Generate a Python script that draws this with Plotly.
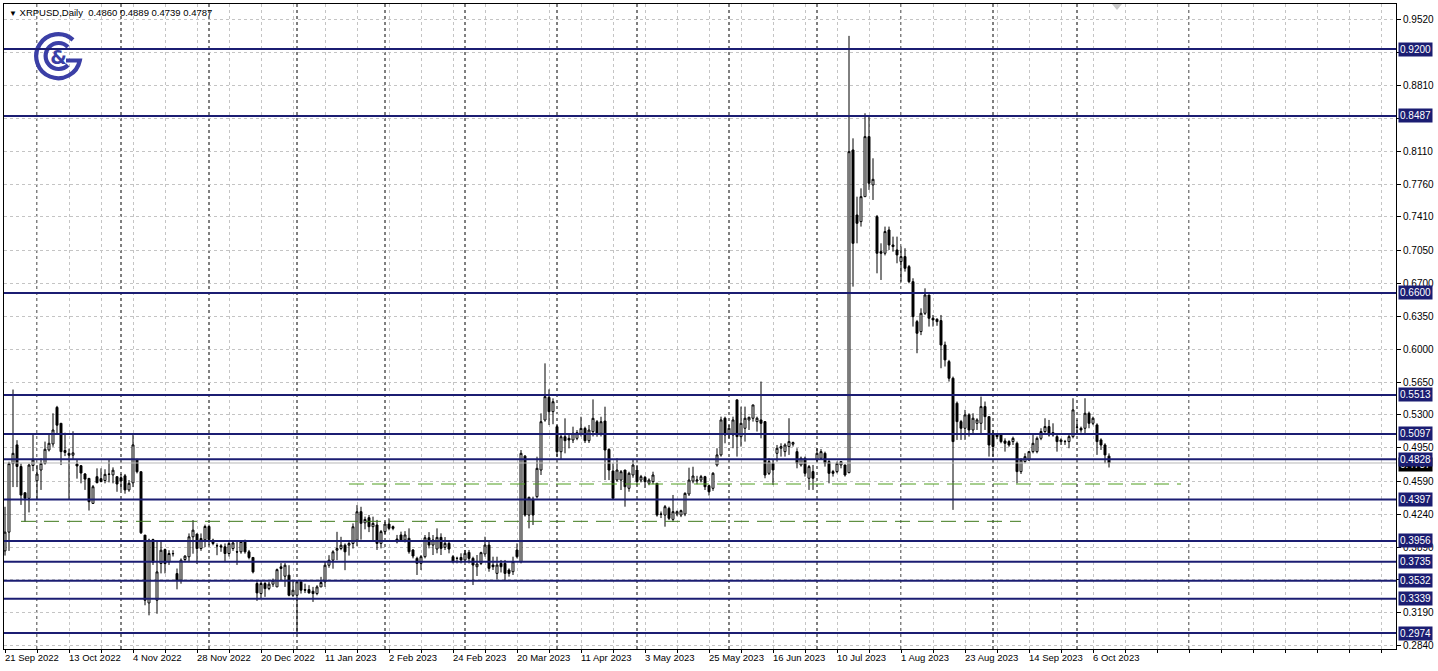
import base64
import pandas as pd
import plotly.graph_objects as go

# ---------------- data ----------------
first_date = "2022-09-21"   # first daily bar (weekday bars only)
symbol = "XRPUSD,Daily"

opens = [0.385, 0.405, 0.478, 0.498, 0.475, 0.447, 0.441, 0.476, 0.4597, 0.4712,
         0.4783, 0.4926, 0.499, 0.538, 0.521, 0.492, 0.489, 0.487, 0.4776, 0.4758,
         0.467, 0.4623, 0.4356, 0.4641, 0.462, 0.460, 0.4665, 0.466, 0.4641, 0.463,
         0.465, 0.450, 0.4575, 0.4826, 0.4694, 0.4018, 0.3295, 0.397, 0.3324, 0.3715,
         0.3864, 0.3733, 0.3822, 0.3608, 0.3537, 0.3758, 0.3787, 0.400, 0.4029, 0.3875,
         0.3968, 0.411, 0.3964, 0.3905, 0.3904, 0.3893, 0.3822, 0.3875, 0.384, 0.384,
         0.395, 0.384, 0.378, 0.3502, 0.3395, 0.3502, 0.3448, 0.3495, 0.3466, 0.368,
         0.358, 0.3591, 0.3377, 0.3377, 0.352, 0.3437, 0.3437, 0.342, 0.3395, 0.3466,
         0.352, 0.3697, 0.3751, 0.3857, 0.3875, 0.3911, 0.3911, 0.3929, 0.3964, 0.4268,
         0.4149, 0.4204, 0.4108, 0.4126, 0.393, 0.4055, 0.4136, 0.4108, 0.3976, 0.402,
         0.3966, 0.3984, 0.3859, 0.377, 0.3717, 0.3788, 0.399, 0.3912, 0.387, 0.3994,
         0.3888, 0.393, 0.3788, 0.3771, 0.378, 0.3753, 0.3834, 0.377, 0.3681, 0.3717,
         0.3817, 0.3912, 0.3699, 0.361, 0.3717, 0.3717, 0.3646, 0.3628, 0.3859, 0.3735,
         0.486, 0.4232, 0.440, 0.4428, 0.4712, 0.5245, 0.5487, 0.5334, 0.5174, 0.4907,
         0.5067, 0.505, 0.5032, 0.505, 0.5103, 0.5156, 0.5025, 0.5121, 0.5227, 0.5103,
         0.5234, 0.4932, 0.4701, 0.4605, 0.4605, 0.4712, 0.4517, 0.4659, 0.4712, 0.4605,
         0.4634, 0.457, 0.4588, 0.457, 0.4243, 0.4232, 0.4303, 0.4186, 0.4243, 0.4232,
         0.4243, 0.4456, 0.4594, 0.4595, 0.4605, 0.4641, 0.4545, 0.4517, 0.4766, 0.4873,
         0.5264, 0.5086, 0.5086, 0.546, 0.5068, 0.5157, 0.5246, 0.5264, 0.5228, 0.5246,
         0.5228, 0.4677, 0.4784, 0.489, 0.4944, 0.4908, 0.4962, 0.4987, 0.4908, 0.4766,
         0.4837, 0.4624, 0.4695, 0.4819, 0.4837, 0.489, 0.4802, 0.4695, 0.4695, 0.4766,
         0.4766, 0.4684, 0.8124, 0.7431, 0.736, 0.7626, 0.8266, 0.7751, 0.7413, 0.704,
         0.7023, 0.7271, 0.7111, 0.7058, 0.6934, 0.6987, 0.688, 0.672, 0.6294, 0.6188,
         0.6383, 0.6578, 0.633, 0.6319, 0.6305, 0.6045, 0.5868, 0.569, 0.5424, 0.5228,
         0.5157, 0.530, 0.5139, 0.521, 0.521, 0.5388, 0.5281, 0.5104, 0.5086, 0.5086,
         0.5022, 0.5015, 0.5015, 0.4997, 0.4695, 0.4802, 0.4819, 0.4908, 0.4908, 0.505,
         0.5122, 0.5175, 0.5086, 0.5068, 0.5015, 0.5017, 0.5015, 0.5068, 0.517, 0.5157,
         0.5157, 0.5317, 0.521, 0.5193, 0.5033, 0.4979, 0.4860]

highs = [0.432, 0.480, 0.557, 0.503, 0.478, 0.447, 0.478, 0.509, 0.4765, 0.4837,
         0.5015, 0.509, 0.5317, 0.5396, 0.521, 0.511, 0.494, 0.5125, 0.4826, 0.4765,
         0.468, 0.4623, 0.4552, 0.473, 0.473, 0.472, 0.482, 0.474, 0.4641, 0.467,
         0.467, 0.4605, 0.5086, 0.4826, 0.4694, 0.4018, 0.398, 0.398, 0.396, 0.3953,
         0.3875, 0.3857, 0.3857, 0.3662, 0.377, 0.3804, 0.4036, 0.4178, 0.4036, 0.4036,
         0.413, 0.413, 0.398, 0.393, 0.3922, 0.3929, 0.3946, 0.3964, 0.3946, 0.396,
         0.397, 0.386, 0.378, 0.3537, 0.3537, 0.352, 0.352, 0.3555, 0.3662, 0.372,
         0.372, 0.3697, 0.3537, 0.3537, 0.3537, 0.350, 0.3484, 0.3466, 0.3484, 0.3573,
         0.3733, 0.3804, 0.3857, 0.4053, 0.400, 0.3929, 0.396, 0.4143, 0.4338, 0.432,
         0.4215, 0.4233, 0.4215, 0.418, 0.4073, 0.4161, 0.4197, 0.412, 0.402, 0.4055,
         0.406, 0.409, 0.387, 0.3788, 0.3806, 0.4019, 0.405, 0.4019, 0.409, 0.4037,
         0.3997, 0.3966, 0.3806, 0.3788, 0.3824, 0.386, 0.386, 0.3788, 0.3806, 0.3841,
         0.4001, 0.3966, 0.3788, 0.3788, 0.3753, 0.3753, 0.3664, 0.3788, 0.393, 0.4925,
         0.4872, 0.4428, 0.4428, 0.4854, 0.5316, 0.5849, 0.5572, 0.5476, 0.5192, 0.5103,
         0.5263, 0.5085, 0.5174, 0.5138, 0.528, 0.5174, 0.5192, 0.5465, 0.5245, 0.528,
         0.5387, 0.4943, 0.4783, 0.4836, 0.4712, 0.4712, 0.4694, 0.4819, 0.4765, 0.466,
         0.465, 0.4623, 0.4694, 0.457, 0.427, 0.4339, 0.4321, 0.4446, 0.428, 0.429,
         0.4475, 0.4737, 0.4747, 0.465, 0.466, 0.465, 0.4553, 0.469, 0.4944, 0.5281,
         0.5281, 0.5193, 0.5281, 0.546, 0.5388, 0.5388, 0.5281, 0.5406, 0.5281, 0.5655,
         0.5228, 0.4837, 0.4819, 0.4979, 0.4997, 0.4997, 0.5264, 0.5015, 0.4944, 0.4855,
         0.4855, 0.4766, 0.4766, 0.4944, 0.4935, 0.4908, 0.4819, 0.4713, 0.4802, 0.4802,
         0.4766, 0.934, 0.8248, 0.7626, 0.7715, 0.8515, 0.848, 0.8035, 0.7431, 0.7129,
         0.7307, 0.7307, 0.720, 0.720, 0.7094, 0.7076, 0.6898, 0.6756, 0.6312, 0.6436,
         0.6649, 0.6578, 0.6365, 0.633, 0.6365, 0.6081, 0.5886, 0.5708, 0.5442, 0.5246,
         0.5353, 0.5317, 0.5317, 0.5264, 0.5495, 0.5442, 0.5281, 0.5139, 0.510, 0.5104,
         0.505, 0.503, 0.5068, 0.5015, 0.4837, 0.489, 0.4915, 0.5104, 0.507, 0.5157,
         0.5264, 0.5246, 0.521, 0.5086, 0.505, 0.5033, 0.5086, 0.5477, 0.5246, 0.5175,
         0.5477, 0.5335, 0.5281, 0.521, 0.505, 0.4997, 0.4889]

lows = [0.380, 0.385, 0.453, 0.453, 0.434, 0.416, 0.426, 0.470, 0.4392, 0.450,
        0.477, 0.491, 0.496, 0.5104, 0.4765, 0.486, 0.440, 0.482, 0.462, 0.457,
        0.450, 0.428, 0.435, 0.457, 0.458, 0.457, 0.458, 0.457, 0.448, 0.450,
        0.446, 0.448, 0.453, 0.4676, 0.403, 0.327, 0.3163, 0.370, 0.318, 0.361,
        0.361, 0.370, 0.379, 0.344, 0.350, 0.373, 0.373, 0.382, 0.371, 0.385,
        0.389, 0.391, 0.391, 0.3804, 0.384, 0.373, 0.379, 0.385, 0.370, 0.382,
        0.382, 0.376, 0.361, 0.3317, 0.334, 0.336, 0.3431, 0.3466, 0.3466, 0.3537,
        0.3466, 0.3366, 0.3359, 0.2968, 0.3395, 0.340, 0.3395, 0.3306, 0.3377, 0.3466,
        0.3466, 0.367, 0.366, 0.3751, 0.3857, 0.3644, 0.380, 0.3875, 0.390, 0.397,
        0.408, 0.405, 0.3948, 0.386, 0.3877, 0.403, 0.407, 0.407, 0.393, 0.395,
        0.394, 0.382, 0.377, 0.3593, 0.3646, 0.377, 0.3877, 0.3806, 0.3824, 0.3806,
        0.3859, 0.3824, 0.3717, 0.3717, 0.3717, 0.373, 0.3717, 0.3486, 0.3582, 0.3699,
        0.3788, 0.3628, 0.3646, 0.3547, 0.362, 0.354, 0.3575, 0.3593, 0.377, 0.3717,
        0.4215, 0.409, 0.4126, 0.441, 0.4659, 0.5227, 0.5192, 0.520, 0.4854, 0.4819,
        0.489, 0.4943, 0.500, 0.503, 0.507, 0.500, 0.500, 0.507, 0.5067, 0.507,
        0.4605, 0.4605, 0.4392, 0.4588, 0.4499, 0.4321, 0.4481, 0.463, 0.455, 0.458,
        0.452, 0.455, 0.456, 0.4215, 0.420, 0.4108, 0.4179, 0.4161, 0.422, 0.421,
        0.422, 0.4435, 0.457, 0.456, 0.458, 0.4499, 0.444, 0.449, 0.4748, 0.4855,
        0.4997, 0.505, 0.4944, 0.4855, 0.4962, 0.5015, 0.5139, 0.5228, 0.5122, 0.505,
        0.4624, 0.4659, 0.4553, 0.4802, 0.4855, 0.4855, 0.4873, 0.4962, 0.473, 0.4748,
        0.4642, 0.450, 0.450, 0.4802, 0.4819, 0.4748, 0.457, 0.4642, 0.4677, 0.473,
        0.4642, 0.4677, 0.6667, 0.7129, 0.7307, 0.7626, 0.7698, 0.7591, 0.6809, 0.6738,
        0.700, 0.7058, 0.704, 0.6916, 0.672, 0.6827, 0.6703, 0.6241, 0.5957, 0.615,
        0.6365, 0.6241, 0.6241, 0.625, 0.5797, 0.5815, 0.5655, 0.4287, 0.5033, 0.5033,
        0.5033, 0.5068, 0.5086, 0.5139, 0.5086, 0.5139, 0.4855, 0.4855, 0.504, 0.4997,
        0.4908, 0.496, 0.4979, 0.457, 0.467, 0.4784, 0.481, 0.489, 0.489, 0.503,
        0.5086, 0.5068, 0.5068, 0.4908, 0.4979, 0.4979, 0.4944, 0.505, 0.5086, 0.511,
        0.5086, 0.5157, 0.519, 0.4873, 0.4926, 0.4784, 0.4739]

closes = [0.405, 0.478, 0.489, 0.475, 0.4445, 0.441, 0.4765, 0.482, 0.4669, 0.4783,
          0.4933, 0.4997, 0.5139, 0.519, 0.4908, 0.490, 0.487, 0.4895, 0.4755, 0.468,
          0.4615, 0.4374, 0.4534, 0.4577, 0.459, 0.4666, 0.4668, 0.471, 0.4563, 0.4595,
          0.450, 0.457, 0.498, 0.4694, 0.4043, 0.3324, 0.3964, 0.373, 0.3626, 0.3857,
          0.3715, 0.3822, 0.382, 0.3537, 0.3751, 0.3794, 0.400, 0.4071, 0.3875, 0.3982,
          0.411, 0.397, 0.3929, 0.3904, 0.3893, 0.3822, 0.3929, 0.3935, 0.3838, 0.395,
          0.384, 0.378, 0.3626, 0.3402, 0.3502, 0.3448, 0.3495, 0.3537, 0.365, 0.3662,
          0.3697, 0.3377, 0.3431, 0.352, 0.3431, 0.3431, 0.3402, 0.3395, 0.3466, 0.3513,
          0.3697, 0.375, 0.384, 0.3875, 0.3911, 0.384, 0.3929, 0.4107, 0.4267, 0.4144,
          0.4185, 0.4108, 0.4143, 0.393, 0.4055, 0.4136, 0.409, 0.409, 0.3948, 0.3966,
          0.402, 0.3841, 0.3795, 0.3717, 0.3788, 0.399, 0.3912, 0.3966, 0.3994, 0.3877,
          0.393, 0.387, 0.3735, 0.377, 0.3753, 0.3824, 0.377, 0.3699, 0.371, 0.3831,
          0.3912, 0.3664, 0.3681, 0.3699, 0.3681, 0.361, 0.361, 0.3735, 0.3788, 0.489,
          0.4232, 0.4421, 0.4232, 0.473, 0.5227, 0.5494, 0.5334, 0.544, 0.4907, 0.5067,
          0.5025, 0.5032, 0.5103, 0.511, 0.5156, 0.5025, 0.5138, 0.5263, 0.5103, 0.5227,
          0.4925, 0.4712, 0.441, 0.4712, 0.4694, 0.4534, 0.4677, 0.4765, 0.4588, 0.4641,
          0.4588, 0.4605, 0.4659, 0.4232, 0.424, 0.4321, 0.4197, 0.4268, 0.4268, 0.4279,
          0.4463, 0.4605, 0.4648, 0.4605, 0.4641, 0.4534, 0.448, 0.4677, 0.4873, 0.5246,
          0.5086, 0.5157, 0.5246, 0.5068, 0.521, 0.5264, 0.5274, 0.5406, 0.5264, 0.521,
          0.4659, 0.4802, 0.4713, 0.4944, 0.4962, 0.4979, 0.5015, 0.5005, 0.4784, 0.4837,
          0.4677, 0.4748, 0.4624, 0.489, 0.4908, 0.4784, 0.4677, 0.4677, 0.4784, 0.4802,
          0.4659, 0.8106, 0.7129, 0.7342, 0.7626, 0.8266, 0.7769, 0.7811, 0.7023, 0.7023,
          0.7254, 0.7111, 0.7094, 0.7005, 0.6987, 0.6863, 0.672, 0.6347, 0.617, 0.6383,
          0.6578, 0.633, 0.6312, 0.6294, 0.6045, 0.5886, 0.569, 0.5015, 0.5228, 0.5157,
          0.530, 0.5139, 0.5264, 0.5246, 0.5388, 0.5281, 0.4979, 0.4962, 0.5068, 0.5015,
          0.4997, 0.4979, 0.505, 0.4695, 0.4819, 0.4855, 0.4908, 0.4997, 0.505, 0.5122,
          0.5175, 0.5086, 0.5111, 0.5015, 0.5033, 0.5015, 0.5068, 0.5353, 0.5168, 0.5139,
          0.5317, 0.521, 0.5264, 0.5015, 0.4979, 0.4873, 0.4787]

level_prices = [0.9200, 0.8487, 0.6600, 0.5513, 0.5097, 0.4828,
                0.4397, 0.3956, 0.3735, 0.3532, 0.3339, 0.2974]
bid_price = 0.4787
ytick_vals = [0.9520, 0.9160, 0.8810, 0.8460, 0.8110, 0.7760, 0.7410, 0.7050,
              0.6700, 0.6350, 0.6000, 0.5650, 0.5300, 0.4950, 0.4590, 0.4240,
              0.3890, 0.3540, 0.3190, 0.2840]
hidden_ticks = [0.9160, 0.8460, 0.3540]   # covered by level labels in the reference
green_prices = [0.4563, 0.4165]
green_start_bars = [86, 4]
green_end_bars = [294, 254]

# ---------------- styling ----------------
W, H = 1438, 671
ML, MR, MT, MB = 4, 42, 4, 22
NAVY = "#1b1d72"
FONT = "Liberation Sans, Arial, sans-serif"
FS = 9.5
LOGO_C = "#3b3fa6"
GREENS = ["#4e9e1e", "#3f7a1c"]

n = len(closes)
x = list(range(n))
dates = pd.bdate_range(first_date, periods=n)
x_max = 347.75

fig = go.Figure(go.Candlestick(
    x=x, open=opens, high=highs, low=lows, close=closes,
    increasing=dict(line=dict(color="black", width=1), fillcolor="white"),
    decreasing=dict(line=dict(color="black", width=1), fillcolor="black"),
    whiskerwidth=0, hoverinfo="skip", showlegend=False,
))

shapes = []
# monthly period separators (existing bars)
sep_idx = [i for i in range(1, n) if dates[i].month != dates[i - 1].month]
# next separator in the empty future area (calendar-day extrapolation)
last = dates[-1]
next_month = (last + pd.offsets.MonthBegin(1)).normalize()
sep_idx.append((n - 1) + (next_month - last).days)
for i in sep_idx:
    shapes.append(dict(type="line", xref="x", yref="paper", x0=i, x1=i, y0=0, y1=1,
                       line=dict(color="black", width=1, dash="3px,3px"), layer="below"))
# bid line
shapes.append(dict(type="line", xref="paper", yref="y", x0=0, x1=1, y0=bid_price, y1=bid_price,
                   line=dict(color="#b8b8b8", width=1), layer="above"))
# horizontal levels
for p in level_prices:
    shapes.append(dict(type="line", xref="paper", yref="y", x0=0, x1=1, y0=p, y1=p,
                       line=dict(color=NAVY, width=2), layer="above"))
# green dashed lines
for p, a, b, c in zip(green_prices, green_start_bars, green_end_bars, GREENS):
    shapes.append(dict(type="line", xref="x", yref="y", x0=a, x1=b, y0=p, y1=p,
                       line=dict(color=c, width=1, dash="15px,8px"), layer="above"))
# small shift marker on top
xs = (1117 - ML) / (W - ML - MR)
dx = 5 / (W - ML - MR)
dy = 6 / (H - MT - MB)
shapes.append(dict(type="path", xref="paper", yref="paper",
                   path=f"M {xs-dx} 1 L {xs+dx} 1 L {xs} {1-dy} Z",
                   fillcolor="#c8c8c8", line=dict(width=0), layer="above"))

annotations = []
# date labels
for i in range(0, n, 16):
    d = dates[i]
    annotations.append(dict(x=i, y=0, xref="x", yref="paper", xanchor="left", yanchor="top",
                            text=f"{d.day} {d.strftime('%b %Y')}", showarrow=False,
                            xshift=-2, yshift=-1, font=dict(family=FONT, size=FS, color="black")))
# bid label (under the level labels)
annotations.append(dict(x=1, y=bid_price, xref="paper", yref="y", xanchor="left", yanchor="middle",
                        xshift=2, yshift=-2, text=f"{bid_price:.4f}", showarrow=False,
                        bgcolor="black", borderpad=1,
                        font=dict(family=FONT, size=FS + 0.5, color="white")))
for p in level_prices:
    annotations.append(dict(x=1, y=p, xref="paper", yref="y", xanchor="left", yanchor="middle",
                            xshift=2, text=f"{p:.4f}", showarrow=False, bgcolor=NAVY, borderpad=1,
                            font=dict(family=FONT, size=FS + 0.5, color="white")))
# header
hdr = (f"<span style='font-size:8px'>▼</span> {symbol}  {opens[-1]:.4f} {highs[-1]:.4f} "
       f"{lows[-1]:.4f} {closes[-1]:.4f}")
annotations.append(dict(x=0, y=1, xref="paper", yref="paper", xanchor="left", yanchor="top",
                        xshift=3, yshift=-1, text=hdr, showarrow=False,
                        font=dict(family=FONT, size=FS, color="black")))

# logo
svg = (f'<svg xmlns="http://www.w3.org/2000/svg" width="52" height="52" viewBox="0 0 52 52">'
       f'<g fill="none" stroke="{LOGO_C}" stroke-width="4.2">'
       f'<path d="M40.0 8.9 A22 22 0 1 0 46.8 29.5 L33 29.5"/>'
       f'<path d="M35 16.0 A13 13 0 1 0 35 34.0"/></g>'
       f'<text x="25.5" y="33" font-family="DejaVu Sans" font-weight="bold" font-size="19" '
       f'text-anchor="middle" fill="{LOGO_C}">&amp;</text></svg>')
src = "data:image/svg+xml;base64," + base64.b64encode(svg.encode()).decode()
pw, ph = W - ML - MR, H - MT - MB
fig.add_layout_image(dict(source=src, xref="paper", yref="paper",
                          x=(33 - ML) / pw, y=(H - MB - 31) / ph, sizex=52 / pw, sizey=52 / ph,
                          xanchor="left", yanchor="top", sizing="stretch", layer="above"))

xt = list(range(0, 348, 8))
fig.update_layout(
    width=W, height=H, margin=dict(l=ML, r=MR, t=MT, b=MB),
    paper_bgcolor="white", plot_bgcolor="white",
    shapes=shapes, annotations=annotations, showlegend=False, hovermode=False,
    font=dict(family=FONT, size=FS, color="black"),
    xaxis=dict(range=[-0.25, x_max], tickvals=xt, ticktext=[""] * len(xt),
               ticks="outside", ticklen=3,
               tickcolor="black", showgrid=True, gridcolor="#c4c4c4", griddash="3px,3px",
               gridwidth=1, showline=True, mirror=True, linecolor="black", linewidth=1,
               zeroline=False, rangeslider=dict(visible=False), fixedrange=True),
    yaxis=dict(side="right", range=[0.2804, 0.968], tickvals=ytick_vals,
               ticktext=["" if v in hidden_ticks else f"{v:.4f}" for v in ytick_vals],
               ticks="outside", ticklen=4,
               tickcolor="black", showgrid=True, gridcolor="#c4c4c4", griddash="3px,3px",
               gridwidth=1, showline=True, mirror=True, linecolor="black", linewidth=1,
               zeroline=False, fixedrange=True, tickfont=dict(family=FONT, size=FS + 0.5)),
)

fig.write_html("out.html", config={"displayModeBar": False},
               post_script="document.body.style.margin='0';document.body.style.overflow='hidden';")
